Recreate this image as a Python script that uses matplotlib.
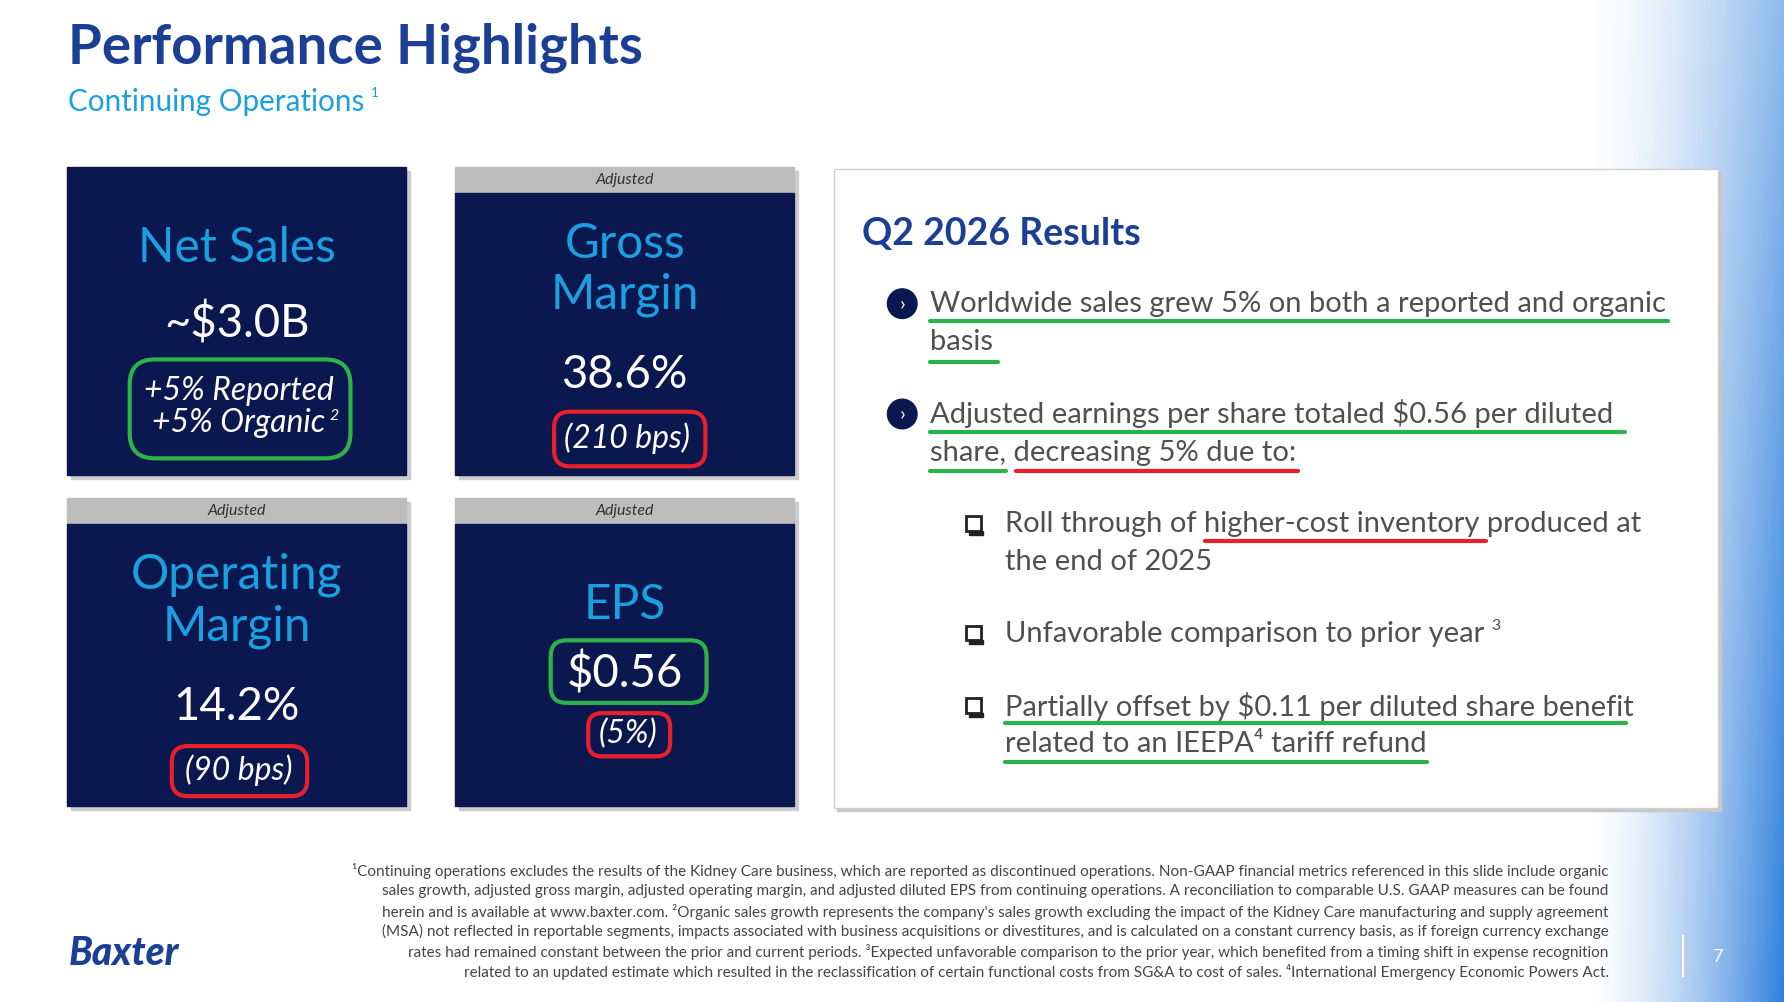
import matplotlib
matplotlib.use("Agg")
import matplotlib.pyplot as plt
import numpy as np
from matplotlib.patches import Rectangle, FancyBboxPatch, Circle

plt.rcParams['font.family'] = ['Lato', 'DejaVu Sans']

title = "Performance Highlights"
subtitle = "Continuing Operations"
tile_titles = ["Net Sales", "Gross\nMargin", "Operating\nMargin", "EPS"]
tile_headers = ["", "Adjusted", "Adjusted", "Adjusted"]
tile_values = ["~$3.0B", "38.6%", "14.2%", "$0.56"]
tile_changes = ["+5% Reported\n+5% Organic", "(210 bps)", "(90 bps)", "(5%)"]
results_title = "Q2 2026 Results"

W, H = 1568, 881
fig = plt.figure(figsize=(17.84, 10.02), dpi=100)
ax = fig.add_axes([0, 0, 1, 1])
ax.set_xlim(0, W); ax.set_ylim(H, 0); ax.axis('off')
S = 0.72 * 1784 / 1568  # display px -> pt

g = np.zeros((100, 200, 4))
xs = np.linspace(0, 1, 200)[None, :]
ys = np.linspace(0, 1, 100)[:, None]
alpha = np.clip((xs - 0.35) / 0.65, 0, 1) ** 1.5
alpha = alpha * (0.55 + 0.45 * ys)
g[..., 0] = 0.10; g[..., 1] = 0.45; g[..., 2] = 0.85
g[..., 3] = np.clip(alpha, 0, 1) * 0.9
ax.imshow(g, extent=[1300, W, H, 0], aspect='auto', zorder=0)

NAVY = '#0b1850'; CYAN = '#1aa0e0'; BLUE = '#1b3f94'; GREY = '#bdbdbd'
RED = '#e8202a'; GREEN = '#2bb34a'; TXT = '#505050'

ax.text(60, 42, title, fontsize=48 * S, color=BLUE, va='center', fontweight='bold')
ax.text(60, 90, subtitle, fontsize=26 * S, color=CYAN, va='center')
ax.text(326, 82, "1", fontsize=12 * S, color=CYAN, va='center')

tiles = [(59, 147), (400, 147), (59, 438), (400, 438)]
for i, (x, y) in enumerate(tiles):
    ax.add_patch(Rectangle((x + 3, y + 3), 298, 271, color='#cccccc', zorder=1))
    if tile_headers[i]:
        ax.add_patch(Rectangle((x, y), 298, 23, color=GREY, zorder=2))
        ax.text(x + 149, y + 11, tile_headers[i], fontsize=14 * S, style='italic', color='#333333', ha='center', va='center', zorder=3)
        ax.add_patch(Rectangle((x, y + 23), 298, 248, color=NAVY, zorder=2))
    else:
        ax.add_patch(Rectangle((x, y), 298, 271, color=NAVY, zorder=2))
ax.text(208, 218, tile_titles[0], fontsize=42 * S, color=CYAN, ha='center', va='center', zorder=3)
ax.text(208, 284, tile_values[0], fontsize=40 * S, color='white', ha='center', va='center', zorder=3)
ax.text(210, 358, tile_changes[0], fontsize=28 * S, color='white', style='italic', ha='center', va='center', linespacing=1.1, zorder=3)
ax.text(290, 366, "2", fontsize=14 * S, color='white', style='italic', va='center', zorder=3)
ax.add_patch(FancyBboxPatch((114, 316), 194, 87, boxstyle="round,pad=0,rounding_size=22", fill=False, ec=GREEN, lw=3, zorder=4))
ax.text(549, 237, tile_titles[1], fontsize=42 * S, color=CYAN, ha='center', va='center', linespacing=1.2, zorder=3)
ax.text(549, 330, tile_values[1], fontsize=40 * S, color='white', ha='center', va='center', zorder=3)
ax.text(551, 385, tile_changes[1], fontsize=28 * S, color='white', style='italic', ha='center', va='center', zorder=3)
ax.add_patch(FancyBboxPatch((487, 362), 133, 48, boxstyle="round,pad=0,rounding_size=14", fill=False, ec=RED, lw=3, zorder=4))
ax.text(208, 528, tile_titles[2], fontsize=42 * S, color=CYAN, ha='center', va='center', linespacing=1.2, zorder=3)
ax.text(208, 622, tile_values[2], fontsize=40 * S, color='white', ha='center', va='center', zorder=3)
ax.text(210, 677, tile_changes[2], fontsize=28 * S, color='white', style='italic', ha='center', va='center', zorder=3)
ax.add_patch(FancyBboxPatch((151, 656), 119, 44, boxstyle="round,pad=0,rounding_size=14", fill=False, ec=RED, lw=3, zorder=4))
ax.text(549, 532, tile_titles[3], fontsize=42 * S, color=CYAN, ha='center', va='center', zorder=3)
ax.text(549, 592, tile_values[3], fontsize=40 * S, color='white', ha='center', va='center', zorder=3)
ax.add_patch(FancyBboxPatch((484, 563), 137, 55, boxstyle="round,pad=0,rounding_size=14", fill=False, ec=GREEN, lw=3, zorder=4))
ax.text(552, 645, tile_changes[3], fontsize=28 * S, color='white', style='italic', ha='center', va='center', zorder=3)
ax.add_patch(FancyBboxPatch((517, 627), 72, 38, boxstyle="round,pad=0,rounding_size=12", fill=False, ec=RED, lw=3, zorder=4))

ax.add_patch(Rectangle((736, 152), 777, 561, color='#c8c8c8', zorder=1))
ax.add_patch(Rectangle((733, 149), 777, 561, fc='white', ec='#d0d0d0', lw=1, zorder=2))
ax.text(758, 206, results_title, fontsize=33 * S, color=BLUE, fontweight='bold', va='center', zorder=3)

FS = 25.6 * S
def line(x, y, s):
    ax.text(x, y, s, fontsize=FS, color=TXT, va='center', zorder=3)
def ul(x0, x1, y, c):
    ax.plot([x0, x1], [y, y], color=c, lw=3, zorder=4, solid_capstyle='round')

for yy in (267, 364):
    ax.add_patch(Circle((793, yy), 13, color=NAVY, zorder=3))
    ax.text(793, yy, "›", color='white', fontsize=18 * S, ha='center', va='center', zorder=4)
line(817, 267, "Worldwide sales grew 5% on both a reported and organic")
line(817, 301, "basis")
ul(817, 1466, 282, GREEN); ul(817, 877, 318, GREEN)
line(817, 364, "Adjusted earnings per share totaled $0.56 per diluted")
line(817, 398, "share, decreasing 5% due to:")
ul(817, 1428, 380, GREEN); ul(817, 884, 414, GREEN); ul(893, 1141, 414, RED)

for yy in (461, 557, 621):
    ax.add_patch(Rectangle((849, yy - 7), 13, 13, fc='white', ec='#222222', lw=2, zorder=3))
    ax.add_patch(Rectangle((852, yy + 6), 12, 3, color='#222222', zorder=3))
line(883, 461, "Roll through of higher-cost inventory produced at")
line(883, 494, "the end of 2025")
ul(1059, 1306, 476, RED)
line(883, 557, "Unfavorable comparison to prior year")
ax.text(1311, 550, "3", fontsize=14 * S, color=TXT, va='center', zorder=3)
line(883, 621, "Partially offset by $0.11 per diluted share benefit")
line(883, 654, "related to an IEEPA⁴ tariff refund")
ul(883, 1429, 636, GREEN); ul(883, 1254, 670, GREEN)

foot = ["¹Continuing operations excludes the results of the Kidney Care business, which are reported as discontinued operations. Non-GAAP financial metrics referenced in this slide include organic",
        "sales growth, adjusted gross margin, adjusted operating margin, and adjusted diluted EPS from continuing operations. A reconciliation to comparable U.S. GAAP measures can be found",
        "herein and is available at www.baxter.com. ²Organic sales growth represents the company's sales growth excluding the impact of the Kidney Care manufacturing and supply agreement",
        "(MSA) not reflected in reportable segments, impacts associated with business acquisitions or divestitures, and is calculated on a constant currency basis, as if foreign currency exchange",
        "rates had remained constant between the prior and current periods. ³Expected unfavorable comparison to the prior year, which benefited from a timing shift in expense recognition",
        "related to an updated estimate which resulted in the reclassification of certain functional costs from SG&A to cost of sales. ⁴International Emergency Economic Powers Act."]
for i, s in enumerate(foot):
    ax.text(1414, 766 + i * 17.8, s, fontsize=13.4 * S, color='#444444', ha='right', va='center', zorder=3)

ax.text(60, 838, "Baxter", fontsize=34 * S, color=BLUE, fontweight='black', style='italic', va='center', zorder=3)
ax.plot([1479, 1479], [823, 858], color='white', lw=1.5, zorder=3)
ax.text(1510, 841, "7", fontsize=16 * S, color='white', ha='center', va='center', zorder=3)

fig.savefig("out.png", dpi=100)
